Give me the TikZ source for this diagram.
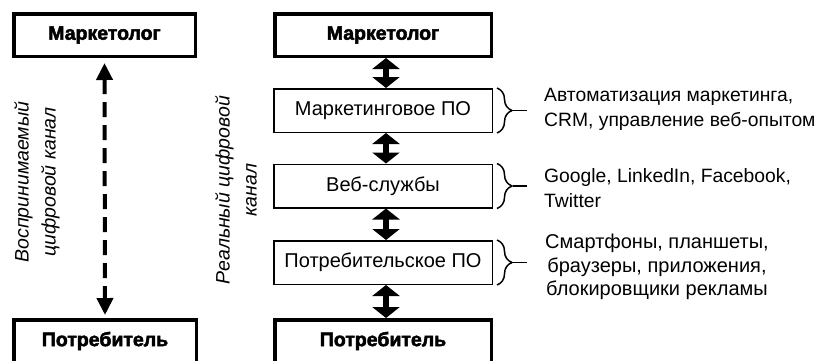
\documentclass[tikz,border=0pt]{standalone}
\usepackage{fontspec}
\setmainfont{Liberation Sans}
\newfontfamily\heavyfont[FakeBold=2.5]{Liberation Sans Bold}
\usetikzlibrary{arrows.meta,decorations.pathreplacing}
\begin{document}
\begin{tikzpicture}[x=1pt,y=-1pt,
  thickbox/.style={draw, line width=3.5pt, minimum height=42.5pt, inner sep=0pt,
    font=\heavyfont\fontsize{19.5}{22}\selectfont},
  thinbox/.style={draw, line width=1.5pt, minimum width=218.5pt, minimum height=43.5pt,
    inner sep=0pt, font=\fontsize{20}{22}\selectfont},
  dbl/.style={line width=6pt, {Triangle[width=27pt,length=11pt]}-{Triangle[width=27pt,length=11pt]}},
  dasharrow/.style={line width=4pt, dash pattern=on 15pt off 8pt,
    {Triangle[width=16pt,length=17pt]}-{Triangle[width=16pt,length=17pt]}},
  bracestyle/.style={line width=1.5pt, decorate, decoration={brace, amplitude=15pt}},
  ticklinestyle/.style={line width=1.5pt},
  sidetext/.style={font=\fontsize{19.3}{25}\selectfont, inner sep=0pt},
  rottext/.style={rotate=90, align=center, inner sep=0pt, font=\itshape\fontsize{19.5}{27}\selectfont}
]
\clip (0,0) rectangle (819,360);
% left column
\node[thickbox, minimum width=181.5pt] (lm) at (104.5,35) {Маркетолог};
\node[thickbox, minimum width=182.5pt] (lc) at (105,341) {Потребитель};
\draw[dasharrow] ([yshift=-5pt]lm.south) -- ([yshift=3pt]lc.north);
\node[rottext] (lt) at (37,182) {Воспринимаемый\\цифровой канал};
% right column
\node[thickbox, minimum width=216.5pt] (rm) at (383,35) {Маркетолог};
\node[thinbox] (mpo) at (383,110.5) {Маркетинговое ПО};
\node[thinbox] (web) at (383,186) {Веб-службы};
\node[thinbox] (cpo) at (383,262.5) {Потребительское ПО};
\node[thickbox, minimum width=216.5pt] (rc) at (383,341) {Потребитель};
\node[rottext] (rt) at (236,190) {Реальный цифровой\\канал};
% double arrows
\draw[dbl] ([xshift=3pt]rm.south) -- ([xshift=3pt]mpo.north);
\draw[dbl] ([xshift=3pt]mpo.south) -- ([xshift=3pt]web.north);
\draw[dbl] ([xshift=3pt]web.south) -- ([xshift=3pt]cpo.north);
\draw[dbl] ([xshift=3pt]cpo.south) -- ([xshift=3pt]rc.north);
% braces
\foreach \b in {mpo,web,cpo}{
  \draw[bracestyle] ([xshift=4pt]\b.north east) -- ([xshift=4pt]\b.south east);
  \coordinate (\b-tip) at ([xshift=20pt]\b.east);
  \coordinate (\b-end) at ([xshift=34pt]\b.east);
  \draw[ticklinestyle] (\b-tip) -- (\b-end);
}
% side texts
\node[sidetext, anchor=west, align=left] (t1) at (544,109) {Автоматизация маркетинга,\\CRM, управление веб-опытом};
\node[sidetext, anchor=west, align=left] (t2) at (544,188) {Google, LinkedIn, Facebook,\\Twitter};
\node[sidetext, align=center, font=\fontsize{20}{23.5}\selectfont] (t3) at (657,267) {Смартфоны, планшеты,\\браузеры, приложения,\\блокировщики рекламы};
\end{tikzpicture}
\end{document}
